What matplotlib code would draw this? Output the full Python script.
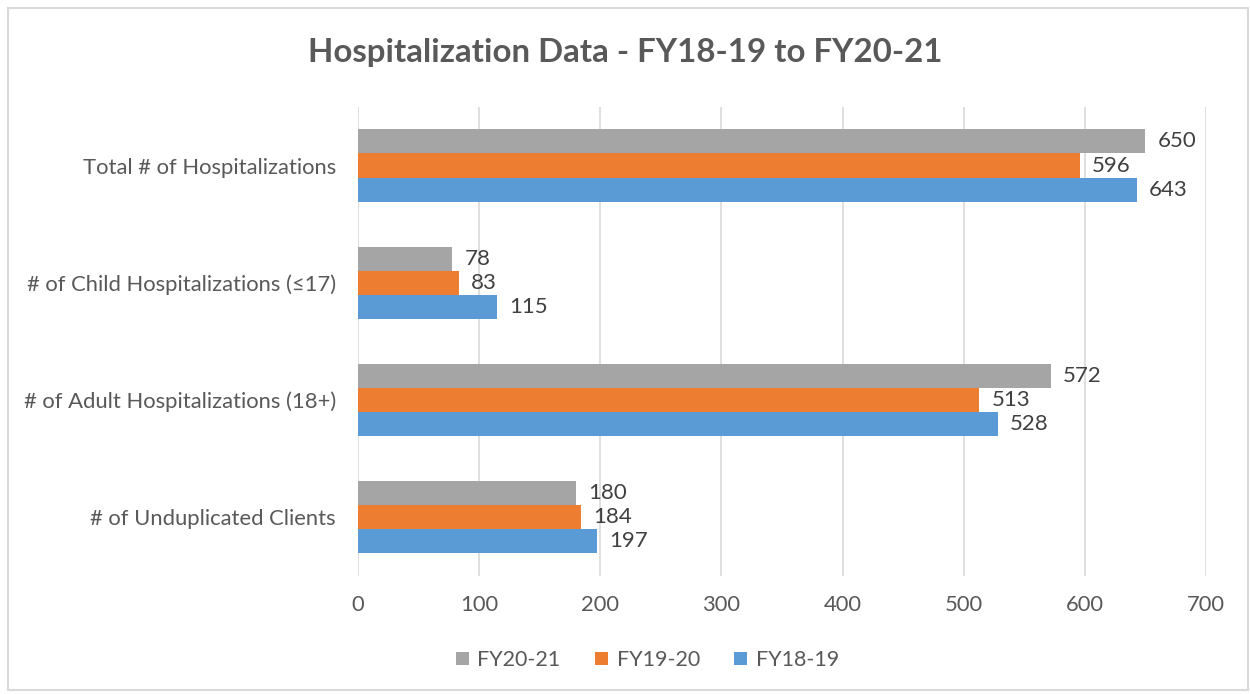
import numpy as np
import matplotlib.pyplot as plt
from matplotlib.patches import Rectangle

categories = ["Total # of Hospitalizations", "# of Child Hospitalizations (≤17)",
              "# of Adult Hospitalizations (18+)", "# of Unduplicated Clients"]
fy2021 = [650, 78, 572, 180]
fy1920 = [596, 83, 513, 184]
fy1819 = [643, 115, 528, 197]
series = ["FY20-21", "FY19-20", "FY18-19"]
colors = ["#A5A5A5", "#ED7D31", "#5B9BD5"]
txt = "#595959"

plt.rcParams["font.family"] = ["Lato", "DejaVu Sans"]

fig = plt.figure(figsize=(12.5, 6.94), dpi=100)
ax = fig.add_axes([0.2864, 0.170, 0.6784, 0.676])

y = np.arange(len(categories))
h = 0.205
for k, (vals, name, c) in enumerate(zip([fy2021, fy1920, fy1819], series, colors)):
    pos = y + (k - 1) * h
    ax.barh(pos, vals, height=h, color=c, label=name, zorder=3)
    for p, v in zip(pos, vals):
        ax.text(v + 10, p, str(v), va="center", ha="left", fontsize=16, color="#404040")

ax.set_xlim(0, 700)
ax.set_ylim(len(categories) - 0.5, -0.5)
ax.set_xticks(range(0, 701, 100))
ax.set_yticks(y)
ax.set_yticklabels(categories)
ax.tick_params(axis="both", length=0, labelsize=15.8, colors=txt)
ax.tick_params(axis="x", pad=14)
ax.tick_params(axis="y", pad=16)
ax.grid(axis="x", color="#D9D9D9", linewidth=1.2, zorder=0)
for s in ax.spines.values():
    s.set_visible(False)

fig.suptitle("Hospitalization Data - FY18-19 to FY20-21", x=0.5, y=0.945,
             fontsize=23.8, fontweight="bold", color=txt)

leg = fig.legend(loc="center", bbox_to_anchor=(0.518, 0.049), ncol=3, frameon=False,
                 fontsize=15.5, handlelength=0.6, handleheight=0.6, columnspacing=1.6,
                 handletextpad=0.4)
for t in leg.get_texts():
    t.set_color(txt)

fig.patches.append(Rectangle((0.006, 0.006), 0.992, 0.982, transform=fig.transFigure,
                             fill=False, edgecolor="#D9D9D9", linewidth=1.5))

fig.savefig("out.png", dpi=100)
